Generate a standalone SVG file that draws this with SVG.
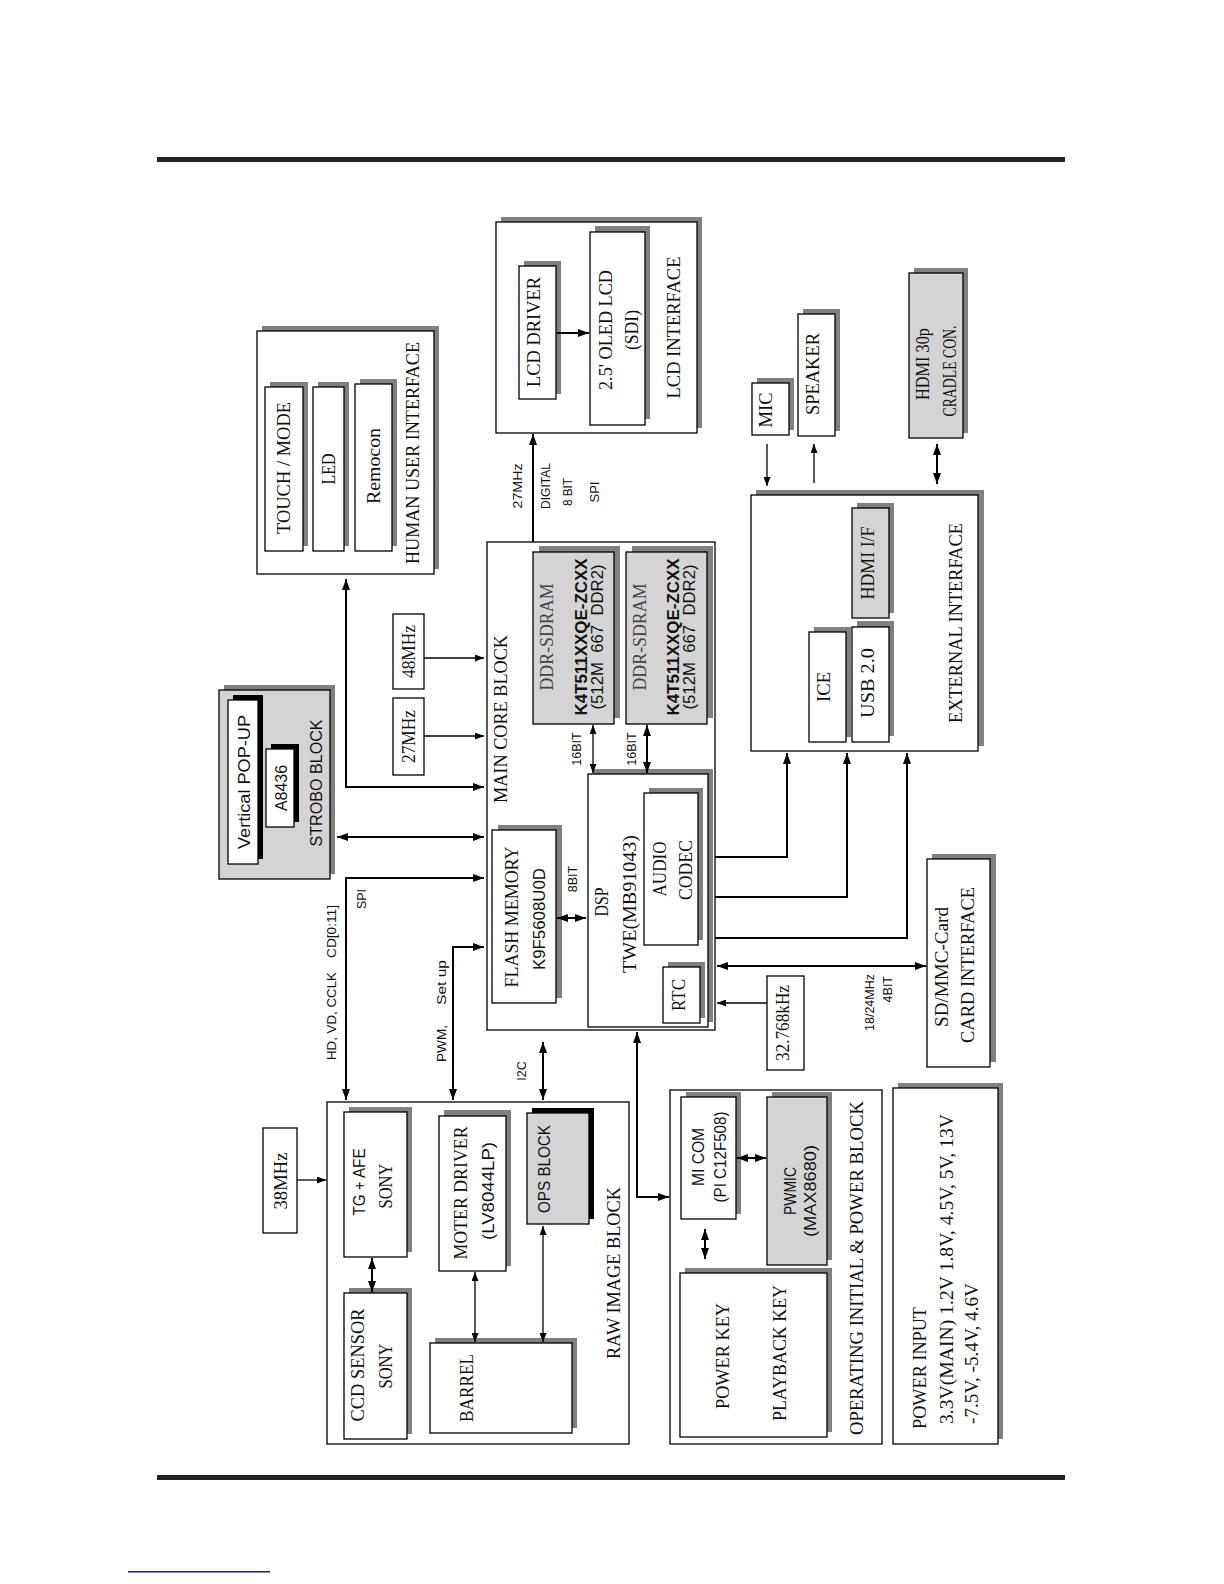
<svg xmlns="http://www.w3.org/2000/svg" width="1224" height="1584" viewBox="0 0 1224 1584">
<style>
text{text-anchor:middle;dominant-baseline:central;fill:#111;white-space:pre}
.s{font-family:"Liberation Serif","Times New Roman",serif;font-size:18px}
.st{font-family:"Liberation Serif","Times New Roman",serif;font-size:19.5px}
.a{font-family:"Liberation Sans",Arial,sans-serif;font-size:16px}
.sm{font-family:"Liberation Sans",Arial,sans-serif;font-size:12.5px}
.b{font-weight:bold}
.g{fill:#444}
.st0{text-anchor:start}
.en{text-anchor:end}
.box{fill:#fff;stroke:#000;stroke-width:1.3}
.gbox{fill:#d4d4d4;stroke:#000;stroke-width:1.3}
.sh{fill:#808080}
.bsh{fill:#000}
.w{fill:none;stroke:#000;stroke-width:2}
.tn{fill:none;stroke:#000;stroke-width:1.3}
</style>
<defs>
<marker id="ah" viewBox="0 0 11 8" refX="11" refY="4" markerWidth="11" markerHeight="8" markerUnits="userSpaceOnUse" orient="auto-start-reverse"><path d="M0,0 L11,4 L0,8 z" fill="#000"/></marker>
<marker id="ahs" viewBox="0 0 9 7" refX="9" refY="3.5" markerWidth="9" markerHeight="7" markerUnits="userSpaceOnUse" orient="auto-start-reverse"><path d="M0,0 L9,3.5 L0,7 z" fill="#000"/></marker>
</defs>
<rect width="1224" height="1584" fill="#fff"/>
<g id="frame">
<rect x="157" y="157" width="908" height="5" fill="#222"/>
<rect x="157" y="1475" width="908" height="5" fill="#222"/>
<rect x="128" y="1571" width="142" height="1.5" fill="#1a1a8c"/>
</g>

<g id="human-ui">
<rect class="sh" x="262" y="326" width="177" height="243"/>
<rect class="box" x="257" y="331" width="177" height="243"/>
<rect class="sh" x="270" y="382" width="38" height="164"/>
<rect class="box" x="265" y="387" width="38" height="164"/>
<rect class="sh" x="318" y="382" width="31" height="164"/>
<rect class="box" x="313" y="387" width="31" height="164"/>
<rect class="sh" x="360" y="379" width="37" height="167"/>
<rect class="box" x="355" y="384" width="37" height="167"/>
<text class="s" transform="translate(284 468) rotate(-90)" textLength="132" lengthAdjust="spacingAndGlyphs">TOUCH / MODE</text>
<text class="s" transform="translate(328.5 469) rotate(-90)" textLength="31" lengthAdjust="spacingAndGlyphs">LED</text>
<text class="s" transform="translate(373.5 466) rotate(-90)" textLength="76" lengthAdjust="spacingAndGlyphs">Remocon</text>
<text class="st" transform="translate(412 453) rotate(-90)" textLength="222" lengthAdjust="spacingAndGlyphs">HUMAN USER INTERFACE</text>
</g>

<g id="strobo">
<rect class="sh" x="224" y="685" width="111" height="189"/>
<rect class="gbox" x="219" y="690" width="111" height="189"/>
<rect class="bsh" x="233" y="695" width="30" height="164"/>
<rect class="box" x="228" y="700" width="30" height="164"/>
<rect class="bsh" x="271" y="744" width="28" height="78"/>
<rect class="box" x="266" y="749" width="28" height="78"/>
<text class="a" transform="translate(244 782) rotate(-90)" textLength="134" lengthAdjust="spacingAndGlyphs">Vertical POP-UP</text>
<text class="a" transform="translate(281 788) rotate(-90)" textLength="46" lengthAdjust="spacingAndGlyphs">A8436</text>
<text class="a" transform="translate(316 783) rotate(-90)" textLength="127" lengthAdjust="spacingAndGlyphs">STROBO BLOCK</text>
</g>

<g id="clk48">
<rect class="box" x="393" y="614" width="31" height="75"/>
<text class="s" transform="translate(409 651.5) rotate(-90)" textLength="53" lengthAdjust="spacingAndGlyphs">48MHz</text>
</g>
<g id="clk27">
<rect class="box" x="393" y="698" width="31" height="77"/>
<text class="s" transform="translate(409 736.5) rotate(-90)" textLength="53" lengthAdjust="spacingAndGlyphs">27MHz</text>
</g>

<g id="main-core">
<rect class="box" x="487" y="542" width="228" height="488"/>
<text class="st" transform="translate(500 719) rotate(-90)" textLength="168" lengthAdjust="spacingAndGlyphs">MAIN CORE BLOCK</text>
</g>

<g id="ddr1">
<rect class="sh" x="539" y="546" width="81" height="172"/>
<rect class="gbox" x="533" y="552" width="81" height="172"/>
<text class="s g" transform="translate(547 637) rotate(-90)" textLength="107" lengthAdjust="spacingAndGlyphs">DDR-SDRAM</text>
<text class="a b" transform="translate(581 637) rotate(-90)" textLength="157" lengthAdjust="spacingAndGlyphs">K4T511XXQE-ZCXX</text>
<text class="a" transform="translate(597 637) rotate(-90)" textLength="145" lengthAdjust="spacingAndGlyphs">(512M  667  DDR2)</text>
</g>
<g id="ddr2">
<rect class="sh" x="632" y="546" width="81" height="172"/>
<rect class="gbox" x="626" y="552" width="81" height="172"/>
<text class="s g" transform="translate(640 637) rotate(-90)" textLength="107" lengthAdjust="spacingAndGlyphs">DDR-SDRAM</text>
<text class="a b" transform="translate(673 637) rotate(-90)" textLength="157" lengthAdjust="spacingAndGlyphs">K4T511XXQE-ZCXX</text>
<text class="a" transform="translate(689 637) rotate(-90)" textLength="145" lengthAdjust="spacingAndGlyphs">(512M  667  DDR2)</text>
</g>

<g id="flash">
<rect class="sh" x="498" y="825" width="64" height="173"/>
<rect class="box" x="492" y="830" width="64" height="173"/>
<text class="s" transform="translate(512 917) rotate(-90)" textLength="141" lengthAdjust="spacingAndGlyphs">FLASH MEMORY</text>
<text class="a" transform="translate(539 919) rotate(-90)" textLength="102" lengthAdjust="spacingAndGlyphs">K9F5608U0D</text>
</g>

<g id="dsp">
<rect class="sh" x="593" y="769" width="120" height="253"/>
<rect class="box" x="588" y="774" width="120" height="253"/>
<text class="st" transform="translate(601 902) rotate(-90)" textLength="29" lengthAdjust="spacingAndGlyphs">DSP</text>
<text class="st" transform="translate(629 904) rotate(-90)" textLength="138" lengthAdjust="spacingAndGlyphs">TWE(MB91043)</text>
</g>
<g id="audio-codec">
<rect class="sh" x="649" y="788" width="54" height="152"/>
<rect class="box" x="644" y="793" width="54" height="152"/>
<text class="st" transform="translate(659 869) rotate(-90)" textLength="55" lengthAdjust="spacingAndGlyphs">AUDIO</text>
<text class="st" transform="translate(685 870) rotate(-90)" textLength="60" lengthAdjust="spacingAndGlyphs">CODEC</text>
</g>
<g id="rtc">
<rect class="sh" x="668" y="962" width="37" height="56"/>
<rect class="box" x="663" y="967" width="37" height="56"/>
<text class="st" transform="translate(678 995) rotate(-90)" textLength="32" lengthAdjust="spacingAndGlyphs">RTC</text>
</g>

<g id="lcd-interface">
<rect class="sh" x="501" y="217" width="201" height="211"/>
<rect class="box" x="496" y="222" width="201" height="211"/>
<text class="st" transform="translate(673 327.5) rotate(-90)" textLength="142" lengthAdjust="spacingAndGlyphs">LCD INTERFACE</text>
</g>
<g id="lcd-driver">
<rect class="sh" x="524" y="261" width="37" height="133"/>
<rect class="box" x="519" y="266" width="37" height="133"/>
<text class="s" transform="translate(534 332) rotate(-90)" textLength="110" lengthAdjust="spacingAndGlyphs">LCD DRIVER</text>
</g>
<g id="oled">
<rect class="sh" x="595" y="226" width="55" height="193"/>
<rect class="box" x="590" y="232" width="55" height="193"/>
<text class="s" transform="translate(606 330) rotate(-90)" textLength="120" lengthAdjust="spacingAndGlyphs">2.5' OLED LCD</text>
<text class="s" transform="translate(632 330) rotate(-90)" textLength="40" lengthAdjust="spacingAndGlyphs">(SDI)</text>
</g>

<g id="external">
<rect class="sh" x="756" y="490" width="228" height="256"/>
<rect class="box" x="751" y="495" width="227" height="256"/>
<text class="st" transform="translate(955 623) rotate(-90)" textLength="200" lengthAdjust="spacingAndGlyphs">EXTERNAL INTERFACE</text>
</g>
<g id="ice">
<rect class="sh" x="814" y="627" width="37" height="110"/>
<rect class="box" x="809" y="632" width="37" height="110"/>
<text class="s" transform="translate(824 687) rotate(-90)" textLength="30" lengthAdjust="spacingAndGlyphs">ICE</text>
</g>
<g id="usb">
<rect class="sh" x="857" y="621" width="37" height="115"/>
<rect class="box" x="852" y="627" width="37" height="115"/>
<text class="s" transform="translate(868 683) rotate(-90)" textLength="70" lengthAdjust="spacingAndGlyphs">USB 2.0</text>
</g>
<g id="hdmi-if">
<rect class="sh" x="857" y="503" width="37" height="110"/>
<rect class="gbox" x="852" y="508" width="37" height="110"/>
<text class="s" transform="translate(868 563) rotate(-90)" textLength="73" lengthAdjust="spacingAndGlyphs">HDMI I/F</text>
</g>
<g id="mic">
<rect class="sh" x="757" y="378" width="37" height="52"/>
<rect class="box" x="752" y="383" width="37" height="52"/>
<text class="s" transform="translate(766 410) rotate(-90)" textLength="35" lengthAdjust="spacingAndGlyphs">MIC</text>
</g>
<g id="speaker">
<rect class="sh" x="803" y="309" width="37" height="122"/>
<rect class="box" x="798" y="314" width="37" height="122"/>
<text class="s" transform="translate(813 374) rotate(-90)" textLength="82" lengthAdjust="spacingAndGlyphs">SPEAKER</text>
</g>
<g id="hdmi-cradle">
<rect class="sh" x="914" y="268" width="54" height="165"/>
<rect class="gbox" x="909" y="273" width="54" height="165"/>
<text class="s" transform="translate(923 364) rotate(-90)" textLength="72" lengthAdjust="spacingAndGlyphs">HDMI 30p</text>
<text class="s" transform="translate(950 371) rotate(-90)" textLength="91" lengthAdjust="spacingAndGlyphs">CRADLE CON.</text>
</g>

<g id="clk32k">
<rect class="box" x="767" y="976" width="37" height="94"/>
<text class="s" transform="translate(783 1023) rotate(-90)" textLength="76" lengthAdjust="spacingAndGlyphs">32.768kHz</text>
</g>
<g id="sd-card">
<rect class="sh" x="932" y="854" width="64" height="208"/>
<rect class="box" x="927" y="859" width="63" height="208"/>
<text class="s" transform="translate(942 967) rotate(-90)" textLength="120" lengthAdjust="spacingAndGlyphs">SD/MMC-Card</text>
<text class="st" transform="translate(967 965) rotate(-90)" textLength="156" lengthAdjust="spacingAndGlyphs">CARD INTERFACE</text>
</g>

<g id="raw-image">
<rect class="box" x="327" y="1102" width="302" height="342"/>
<text class="st" transform="translate(613 1273) rotate(-90)" textLength="172" lengthAdjust="spacingAndGlyphs">RAW IMAGE BLOCK</text>
</g>
<g id="tg-afe">
<rect class="sh" x="349" y="1107" width="63" height="145"/>
<rect class="box" x="344" y="1112" width="63" height="145"/>
<text class="a" transform="translate(359 1182) rotate(-90)" textLength="67" lengthAdjust="spacingAndGlyphs">TG + AFE</text>
<text class="s" transform="translate(386 1186) rotate(-90)" textLength="45" lengthAdjust="spacingAndGlyphs">SONY</text>
</g>
<g id="ccd">
<rect class="sh" x="349" y="1288" width="63" height="146"/>
<rect class="box" x="344" y="1293" width="63" height="146"/>
<text class="s" transform="translate(358 1365) rotate(-90)" textLength="113" lengthAdjust="spacingAndGlyphs">CCD SENSOR</text>
<text class="s" transform="translate(386 1366) rotate(-90)" textLength="45" lengthAdjust="spacingAndGlyphs">SONY</text>
</g>
<g id="clk38">
<rect class="box" x="263" y="1128" width="34" height="105"/>
<text class="s" transform="translate(281 1181) rotate(-90)" textLength="57" lengthAdjust="spacingAndGlyphs">38MHz</text>
</g>
<g id="moter-driver">
<rect class="sh" x="444" y="1110" width="67" height="156"/>
<rect class="box" x="439" y="1116" width="67" height="155"/>
<text class="s" transform="translate(461 1193) rotate(-90)" textLength="133" lengthAdjust="spacingAndGlyphs">MOTER DRIVER</text>
<text class="a" transform="translate(488 1191) rotate(-90)" textLength="98" lengthAdjust="spacingAndGlyphs">(LV8044LP)</text>
</g>
<g id="ops">
<rect class="bsh" x="532" y="1108" width="62" height="111"/>
<rect class="gbox" x="527" y="1113" width="62" height="111"/>
<text class="a" transform="translate(544 1169) rotate(-90)" textLength="88" lengthAdjust="spacingAndGlyphs">OPS BLOCK</text>
</g>
<g id="barrel">
<rect class="sh" x="435" y="1338" width="142" height="90"/>
<rect class="box" x="430" y="1343" width="142" height="90"/>
<text class="s" transform="translate(467 1388) rotate(-90)" textLength="68" lengthAdjust="spacingAndGlyphs">BARREL</text>
</g>

<g id="operating">
<rect class="box" x="670" y="1090" width="212" height="354"/>
<text class="st" transform="translate(856 1268) rotate(-90)" textLength="334" lengthAdjust="spacingAndGlyphs">OPERATING INITIAL &amp; POWER BLOCK</text>
</g>
<g id="micom">
<rect class="sh" x="686" y="1092" width="55" height="122"/>
<rect class="box" x="681" y="1097" width="55" height="122"/>
<text class="a" transform="translate(698 1157) rotate(-90)" textLength="58" lengthAdjust="spacingAndGlyphs">MI COM</text>
<text class="a" transform="translate(720 1157) rotate(-90)" textLength="91" lengthAdjust="spacingAndGlyphs">(PI C12F508)</text>
</g>
<g id="pwmic">
<rect class="sh" x="772" y="1092" width="60" height="168"/>
<rect class="gbox" x="767" y="1097" width="60" height="168"/>
<text class="a" transform="translate(790 1191) rotate(-90)" textLength="48" lengthAdjust="spacingAndGlyphs">PWMIC</text>
<text class="a" transform="translate(810 1191) rotate(-90)" textLength="92" lengthAdjust="spacingAndGlyphs">(MAX8680)</text>
</g>
<g id="keys">
<rect class="sh" x="685" y="1268" width="147" height="164"/>
<rect class="box" x="680" y="1273" width="147" height="164"/>
<text class="st st0" transform="translate(722 1409) rotate(-90)" textLength="106" lengthAdjust="spacingAndGlyphs">POWER KEY</text>
<text class="st st0" transform="translate(779 1421) rotate(-90)" textLength="136" lengthAdjust="spacingAndGlyphs">PLAYBACK KEY</text>
</g>
<g id="power-input">
<rect class="sh" x="898" y="1083" width="105" height="356"/>
<rect class="box" x="893" y="1088" width="105" height="356"/>
<text class="st st0" transform="translate(919 1429) rotate(-90)" textLength="122" lengthAdjust="spacingAndGlyphs">POWER INPUT</text>
<text class="s st0" transform="translate(947 1424) rotate(-90)" textLength="310" lengthAdjust="spacingAndGlyphs">3.3V(MAIN) 1.2V 1.8V, 4.5V, 5V, 13V</text>
<text class="s st0" transform="translate(972 1424) rotate(-90)" textLength="141" lengthAdjust="spacingAndGlyphs">-7.5V, -5.4V, 4.6V</text>
</g>

<g id="connectors">
<path class="w" d="M346,579 V787 H484" marker-start="url(#ah)" marker-end="url(#ah)"/>
<path class="w" d="M337,837 H484" marker-start="url(#ah)" marker-end="url(#ah)"/>
<path class="w" d="M484,878 H346 V1100" marker-start="url(#ah)" marker-end="url(#ah)"/>
<path class="w" d="M484,947 H453 V1100" marker-start="url(#ah)" marker-end="url(#ah)"/>
<path class="w" d="M543,1042 V1100" marker-start="url(#ah)" marker-end="url(#ah)"/>
<path class="w" d="M533,542 V434" marker-end="url(#ah)"/>
<path class="w" d="M557,918 H586" marker-start="url(#ah)" marker-end="url(#ah)"/>
<path class="w" d="M647,725 V773" marker-start="url(#ah)" marker-end="url(#ah)"/>
<path class="w" d="M715,857 H787 V753" marker-end="url(#ah)"/>
<path class="w" d="M715,897 H847 V753" marker-end="url(#ah)"/>
<path class="w" d="M715,938 H907 V753" marker-end="url(#ah)"/>
<path class="w" d="M717,966 H926" marker-start="url(#ah)" marker-end="url(#ah)"/>
<path class="w" d="M937,444 V484" marker-start="url(#ah)" marker-end="url(#ah)"/>
<path class="w" d="M637,1032 V1197 H669" marker-start="url(#ah)" marker-end="url(#ah)"/>
<path class="w" d="M557,333 H589" marker-end="url(#ah)"/>
<path class="w" d="M737,1158 H766" marker-start="url(#ah)" marker-end="url(#ah)"/>
<path class="w" d="M705,1229 V1259" marker-start="url(#ah)" marker-end="url(#ah)"/>
<path class="w" d="M372,1258 V1292" marker-start="url(#ah)" marker-end="url(#ah)"/>
<path class="tn" d="M424,658 H484" marker-end="url(#ahs)"/>
<path class="tn" d="M424,736 H484" marker-end="url(#ahs)"/>
<path class="tn" d="M593,725 V773" marker-start="url(#ahs)" marker-end="url(#ahs)"/>
<path class="tn" d="M297,1180 H326" marker-end="url(#ahs)"/>
<path class="tn" d="M767,1003 H717" marker-end="url(#ahs)"/>
<path class="tn" d="M767,444 V486" marker-end="url(#ahs)"/>
<path class="tn" d="M814,483 V444" marker-end="url(#ahs)"/>
<path class="tn" d="M475,1272 V1342" marker-start="url(#ahs)" marker-end="url(#ahs)"/>
<path class="tn" d="M543,1226 V1342" marker-start="url(#ahs)" marker-end="url(#ahs)"/>
<text class="sm" transform="translate(332 1016) rotate(-90)" textLength="88" lengthAdjust="spacingAndGlyphs">HD, VD, CCLK</text>
<text class="sm" transform="translate(332 931.5) rotate(-90)" textLength="53" lengthAdjust="spacingAndGlyphs">CD[0:11]</text>
<text class="sm" transform="translate(362 899) rotate(-90)">SPI</text>
<text class="sm" transform="translate(442 1043.5) rotate(-90)" textLength="37" lengthAdjust="spacingAndGlyphs">PWM,</text>
<text class="sm" transform="translate(442 982.5) rotate(-90)" textLength="45" lengthAdjust="spacingAndGlyphs">Set up</text>
<text class="sm" transform="translate(522 1071) rotate(-90)">I2C</text>
<text class="sm" transform="translate(577 749) rotate(-90)">16BIT</text>
<text class="sm" transform="translate(632 749) rotate(-90)">16BIT</text>
<text class="sm" transform="translate(573 879) rotate(-90)">8BIT</text>
<text class="sm" transform="translate(518 486) rotate(-90)" textLength="45" lengthAdjust="spacingAndGlyphs">27MHz</text>
<text class="sm" transform="translate(546 486) rotate(-90)" textLength="46" lengthAdjust="spacingAndGlyphs">DIGITAL</text>
<text class="sm" transform="translate(568 492) rotate(-90)" textLength="28" lengthAdjust="spacingAndGlyphs">8 BIT</text>
<text class="sm" transform="translate(595 492) rotate(-90)" textLength="21" lengthAdjust="spacingAndGlyphs">SPI</text>
<text class="sm en" transform="translate(870 974) rotate(-90)">18/24MHz</text>
<text class="sm en" transform="translate(888 976) rotate(-90)">4BIT</text>
</g>
</svg>
